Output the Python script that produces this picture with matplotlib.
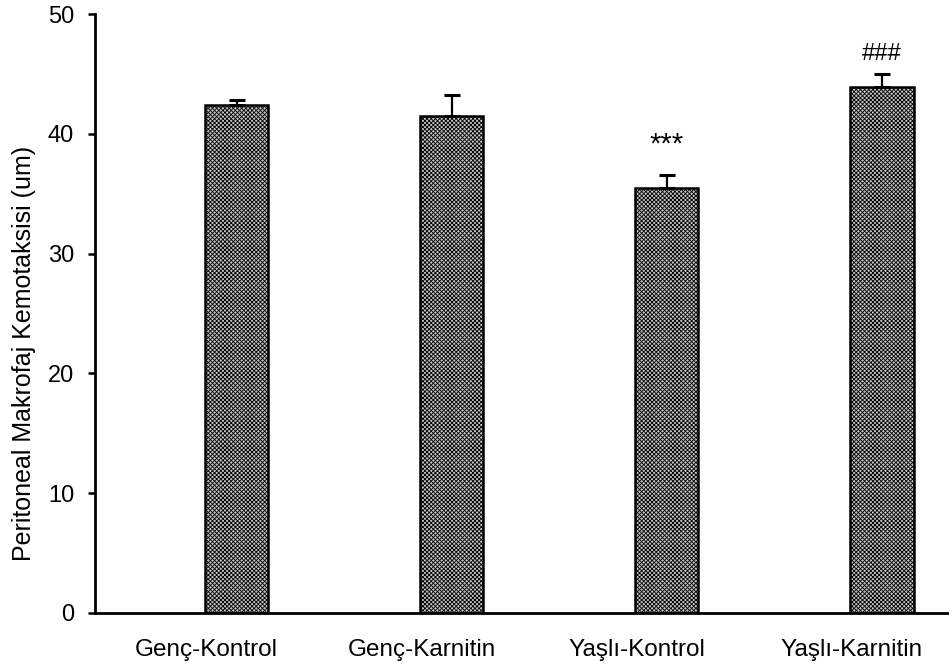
import matplotlib
matplotlib.use("Agg")
import matplotlib.pyplot as plt
import numpy as np

plt.rcParams['font.family'] = ['Liberation Sans', 'DejaVu Sans']
plt.rcParams['hatch.linewidth'] = 0.6

groups = ['Genç-Kontrol', 'Genç-Karnitin', 'Yaşlı-Kontrol', 'Yaşlı-Karnitin']
means = [42.4, 41.5, 35.5, 43.9]
errors = [0.4, 1.7, 1.1, 1.1]
marks = ['', '', '***', '###']
mark_y = [0, 0, 39.1, 46.7]
mark_size = [0, 0, 21, 17]
ylabel = 'Peritoneal Makrofaj Kemotaksisi (um)'


def main():
    fig = plt.figure(figsize=(9.49, 6.70), dpi=100)
    ax = fig.add_axes([0.1001, 0.0851, 0.8999, 0.894])

    x = np.arange(len(groups))
    ax.bar(x, means, width=0.295, color='#c4c4c4', edgecolor='black',
           hatch='xxxxxxxx', linewidth=1.8, zorder=2)
    ax.errorbar(x, means, yerr=[np.zeros(len(errors)), errors], fmt='none',
                ecolor='black', elinewidth=1.6, capsize=5.8, capthick=2.2, zorder=3)

    for xi, t, yy, fs in zip(x, marks, mark_y, mark_size):
        if t:
            ax.text(xi, yy, t, ha='center', va='center', fontsize=fs)

    ax.set_xlim(-0.658, 3.312)
    ax.set_ylim(0, 50)
    ax.set_yticks([0, 10, 20, 30, 40, 50])
    # category labels sit a little left of the bars in the original
    ax.set_xticks(x - 0.14)
    ax.set_xticklabels(groups, fontsize=17.5)
    ax.tick_params(axis='x', length=0, pad=19)
    ax.tick_params(axis='y', direction='out', length=5, width=1.8, labelsize=17, pad=10)
    ax.set_ylabel(ylabel, fontsize=18)
    ax.yaxis.set_label_coords(-0.069, 0.434)

    for s in ['top', 'right']:
        ax.spines[s].set_visible(False)
    ax.spines['left'].set_linewidth(2)
    ax.spines['bottom'].set_linewidth(2)

    fig.savefig('out.png', dpi=100)


if __name__ == '__main__':
    main()
